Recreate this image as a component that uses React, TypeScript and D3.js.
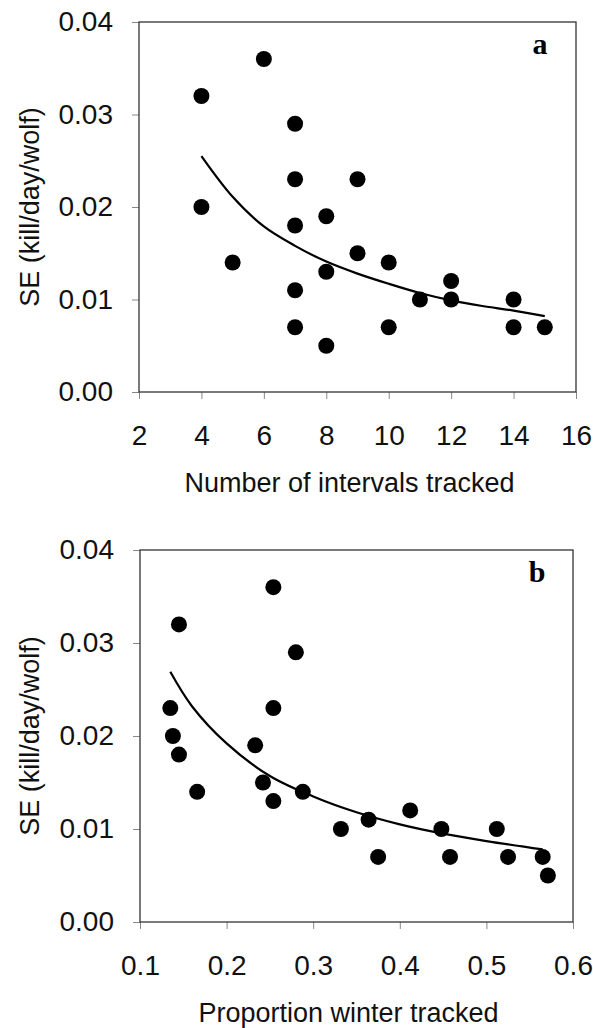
import React, { useEffect, useRef } from "react";
import * as d3 from "d3";

// panel a: SE against number of intervals tracked
const intervalsX = [4, 4, 5, 6, 7, 7, 7, 7, 7, 8, 8, 8, 9, 9, 10, 10, 11, 12, 12, 14, 14, 15];
const intervalsSE = [
  0.032, 0.02, 0.014, 0.036, 0.029, 0.023, 0.018, 0.011, 0.007, 0.019, 0.013, 0.005, 0.023, 0.015,
  0.014, 0.007, 0.01, 0.012, 0.01, 0.01, 0.007, 0.007,
];
const fitIntervalsX = [4, 5, 6, 7, 8, 9, 10, 11, 12, 13, 14, 15];
const fitIntervalsSE = [0.0255, 0.0211, 0.0179, 0.0158, 0.0141, 0.0128, 0.0117, 0.0107, 0.0099, 0.0093, 0.0088, 0.0082];

// panel b: SE against proportion of winter tracked
const winterX = [
  0.135, 0.138, 0.145, 0.145, 0.166, 0.233, 0.242, 0.254, 0.254, 0.254, 0.28, 0.288, 0.332, 0.364,
  0.375, 0.412, 0.448, 0.458, 0.512, 0.525, 0.565, 0.571,
];
const winterSE = [
  0.023, 0.02, 0.032, 0.018, 0.014, 0.019, 0.015, 0.036, 0.023, 0.013, 0.029, 0.014, 0.01, 0.011,
  0.007, 0.012, 0.01, 0.007, 0.01, 0.007, 0.007, 0.005,
];
const fitWinterX = [0.135, 0.16, 0.2, 0.25, 0.3, 0.35, 0.4, 0.45, 0.5, 0.565];
const fitWinterSE = [0.0269, 0.0232, 0.0192, 0.0157, 0.0135, 0.0118, 0.0105, 0.0095, 0.0087, 0.0078];

const seTicks = [0, 0.01, 0.02, 0.03, 0.04];
const intervalTicks = [2, 4, 6, 8, 10, 12, 14, 16];
const winterTicks = [0.1, 0.2, 0.3, 0.4, 0.5, 0.6];

const FONT = "'Liberation Sans', Arial, sans-serif";

function drawPanel(svg, opts) {
  const { top, bottom, left, right, xDomain, xTicks, xFormat, xs, ys, fx, fy, xTitle, letter } = opts;
  const g = svg.append("g");

  const x = d3.scaleLinear().domain(xDomain).range([left, right]);
  const y = d3.scaleLinear().domain([0, 0.04]).range([bottom, top]);

  // y axis
  const yAxis = g
    .append("g")
    .attr("transform", `translate(${left},0)`)
    .call(d3.axisLeft(y).tickValues(seTicks).tickSize(7).tickPadding(19).tickFormat(d3.format(".2f")));
  yAxis.select(".domain").remove();

  // x axis
  const xAxis = g
    .append("g")
    .attr("transform", `translate(0,${bottom})`)
    .call(d3.axisBottom(x).tickValues(xTicks).tickSize(7).tickPadding(26).tickFormat(xFormat));
  xAxis.select(".domain").remove();

  [yAxis, xAxis].forEach((ax) => {
    ax.selectAll("line").attr("stroke", "#888").attr("stroke-width", 1);
    ax.selectAll("text").attr("fill", "#111").style("font-size", "28px").style("font-family", FONT);
  });

  // frame
  g.append("rect")
    .attr("x", left)
    .attr("y", top)
    .attr("width", right - left)
    .attr("height", bottom - top)
    .attr("fill", "none")
    .attr("stroke", "#333")
    .attr("stroke-width", 1.3);

  // fitted curve
  const line = d3
    .line()
    .x((d) => x(d[0]))
    .y((d) => y(d[1]))
    .curve(d3.curveCatmullRom);
  g.append("path")
    .datum(fx.map((v, i) => [v, fy[i]]))
    .attr("d", line)
    .attr("fill", "none")
    .attr("stroke", "#000")
    .attr("stroke-width", 2.2);

  // points
  g.selectAll(".dot")
    .data(xs.map((v, i) => [v, ys[i]]))
    .enter()
    .append("circle")
    .attr("class", "dot")
    .attr("cx", (d) => x(d[0]))
    .attr("cy", (d) => y(d[1]))
    .attr("r", 8)
    .attr("fill", "#000");

  // titles
  g.append("text")
    .attr("transform", `translate(39,${(top + bottom) / 2}) rotate(-90)`)
    .attr("text-anchor", "middle")
    .style("font-size", "27px")
    .style("font-family", FONT)
    .attr("fill", "#111")
    .text("SE (kill/day/wolf)");

  g.append("text")
    .attr("x", (left + right) / 2 - 8)
    .attr("y", bottom + 100)
    .attr("text-anchor", "middle")
    .style("font-size", "27px")
    .style("font-family", FONT)
    .attr("fill", "#111")
    .text(xTitle);

  g.append("text")
    .attr("x", right - 36)
    .attr("y", top + 32)
    .attr("text-anchor", "middle")
    .style("font-size", "30px")
    .style("font-weight", "bold")
    .style("font-family", "'Liberation Serif', 'Times New Roman', serif")
    .attr("fill", "#000")
    .text(letter);
}

export default function App() {
  const svgRef = useRef(null);

  useEffect(() => {
    const svg = d3.select(svgRef.current);
    svg.selectAll("*").remove();

    drawPanel(svg, {
      top: 22,
      bottom: 392,
      left: 139,
      right: 576,
      xDomain: [2, 16],
      xTicks: intervalTicks,
      xFormat: d3.format("d"),
      xs: intervalsX,
      ys: intervalsSE,
      fx: fitIntervalsX,
      fy: fitIntervalsSE,
      xTitle: "Number of intervals tracked",
      letter: "a",
    });

    drawPanel(svg, {
      top: 550,
      bottom: 922,
      left: 140,
      right: 573,
      xDomain: [0.1, 0.6],
      xTicks: winterTicks,
      xFormat: d3.format(".1f"),
      xs: winterX,
      ys: winterSE,
      fx: fitWinterX,
      fy: fitWinterSE,
      xTitle: "Proportion winter tracked",
      letter: "b",
    });
  }, []);

  return (
    <div style={{ position: "absolute", left: 0, top: 0 }}>
      <svg ref={svgRef} width={593} height={1028} style={{ display: "block", background: "#fff" }} />
    </div>
  );
}
